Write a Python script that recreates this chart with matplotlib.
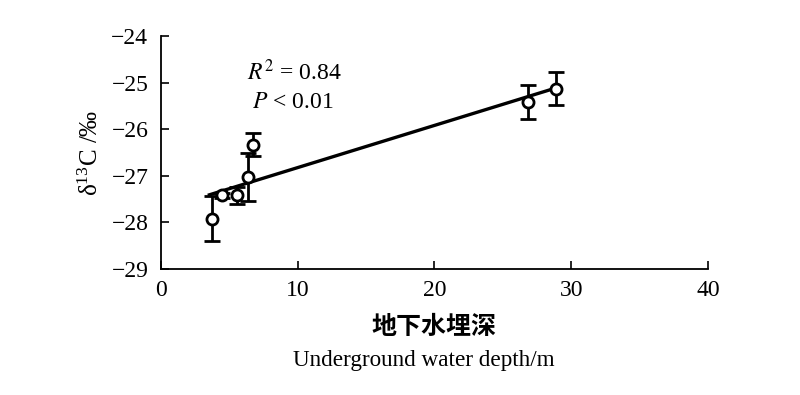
import numpy as np
import matplotlib.pyplot as plt

# data
depth = [3.73, 4.46, 5.56, 6.36, 6.73, 26.84, 28.9]
d13c = [-27.92, -27.42, -27.42, -27.03, -26.33, -25.42, -25.13]
err = [0.48, 0.05, 0.18, 0.52, 0.25, 0.36, 0.35]

# fitted line
slope = 0.0905
intercept = -27.73
fit_range = [3.55, 28.9]

plt.rcParams['font.family'] = ['Liberation Serif', 'Noto Sans CJK SC']
plt.rcParams['mathtext.fontset'] = 'stix'

fig = plt.figure(figsize=(8, 3.95), dpi=100)
ax = fig.add_axes([0.201, 0.319, 0.684, 0.590])

xf = np.array(fit_range)
ax.plot(xf, slope * xf + intercept, color='black', lw=2.4, zorder=2)
ax.errorbar(depth, d13c, yerr=err, fmt='o', color='black', mfc='white', mec='black',
            ms=8, mew=2, elinewidth=2, capsize=6, capthick=2, zorder=3)

ax.set_xlim(0, 40)
ax.set_ylim(-29, -24)
ax.set_xticks([0, 10, 20, 30, 40])
ax.set_yticks([-29, -28, -27, -26, -25, -24])
ax.set_yticklabels(['\u221229', '\u221228', '\u221227', '\u221226', '\u221225', '\u221224'])
ax.tick_params(direction='in', length=6, width=1.2, labelsize=17)
ax.tick_params(axis='y', pad=9)
ax.tick_params(axis='x', pad=8)
for s in ['top', 'right']:
    ax.spines[s].set_visible(False)
for s in ['left', 'bottom']:
    ax.spines[s].set_linewidth(1.3)

ax.text(0.157, 0.845, r'$R^2$ = 0.84', transform=ax.transAxes, fontsize=17,
        ha='left', va='center')
ax.text(0.166, 0.715, r'$P$ < 0.01', transform=ax.transAxes, fontsize=17,
        ha='left', va='center')

ax.set_ylabel(r'$\mathregular{\delta^{13}C}$ /‰', fontsize=18, labelpad=6)
fig.text(0.543, 0.172, '地下水埋深', fontsize=18, fontweight='bold', ha='center', va='center',
         family=['Noto Sans CJK SC'])
fig.text(0.530, 0.088, 'Underground water depth/m', fontsize=16.7, ha='center', va='center')

fig.savefig('out.png', dpi=100)
